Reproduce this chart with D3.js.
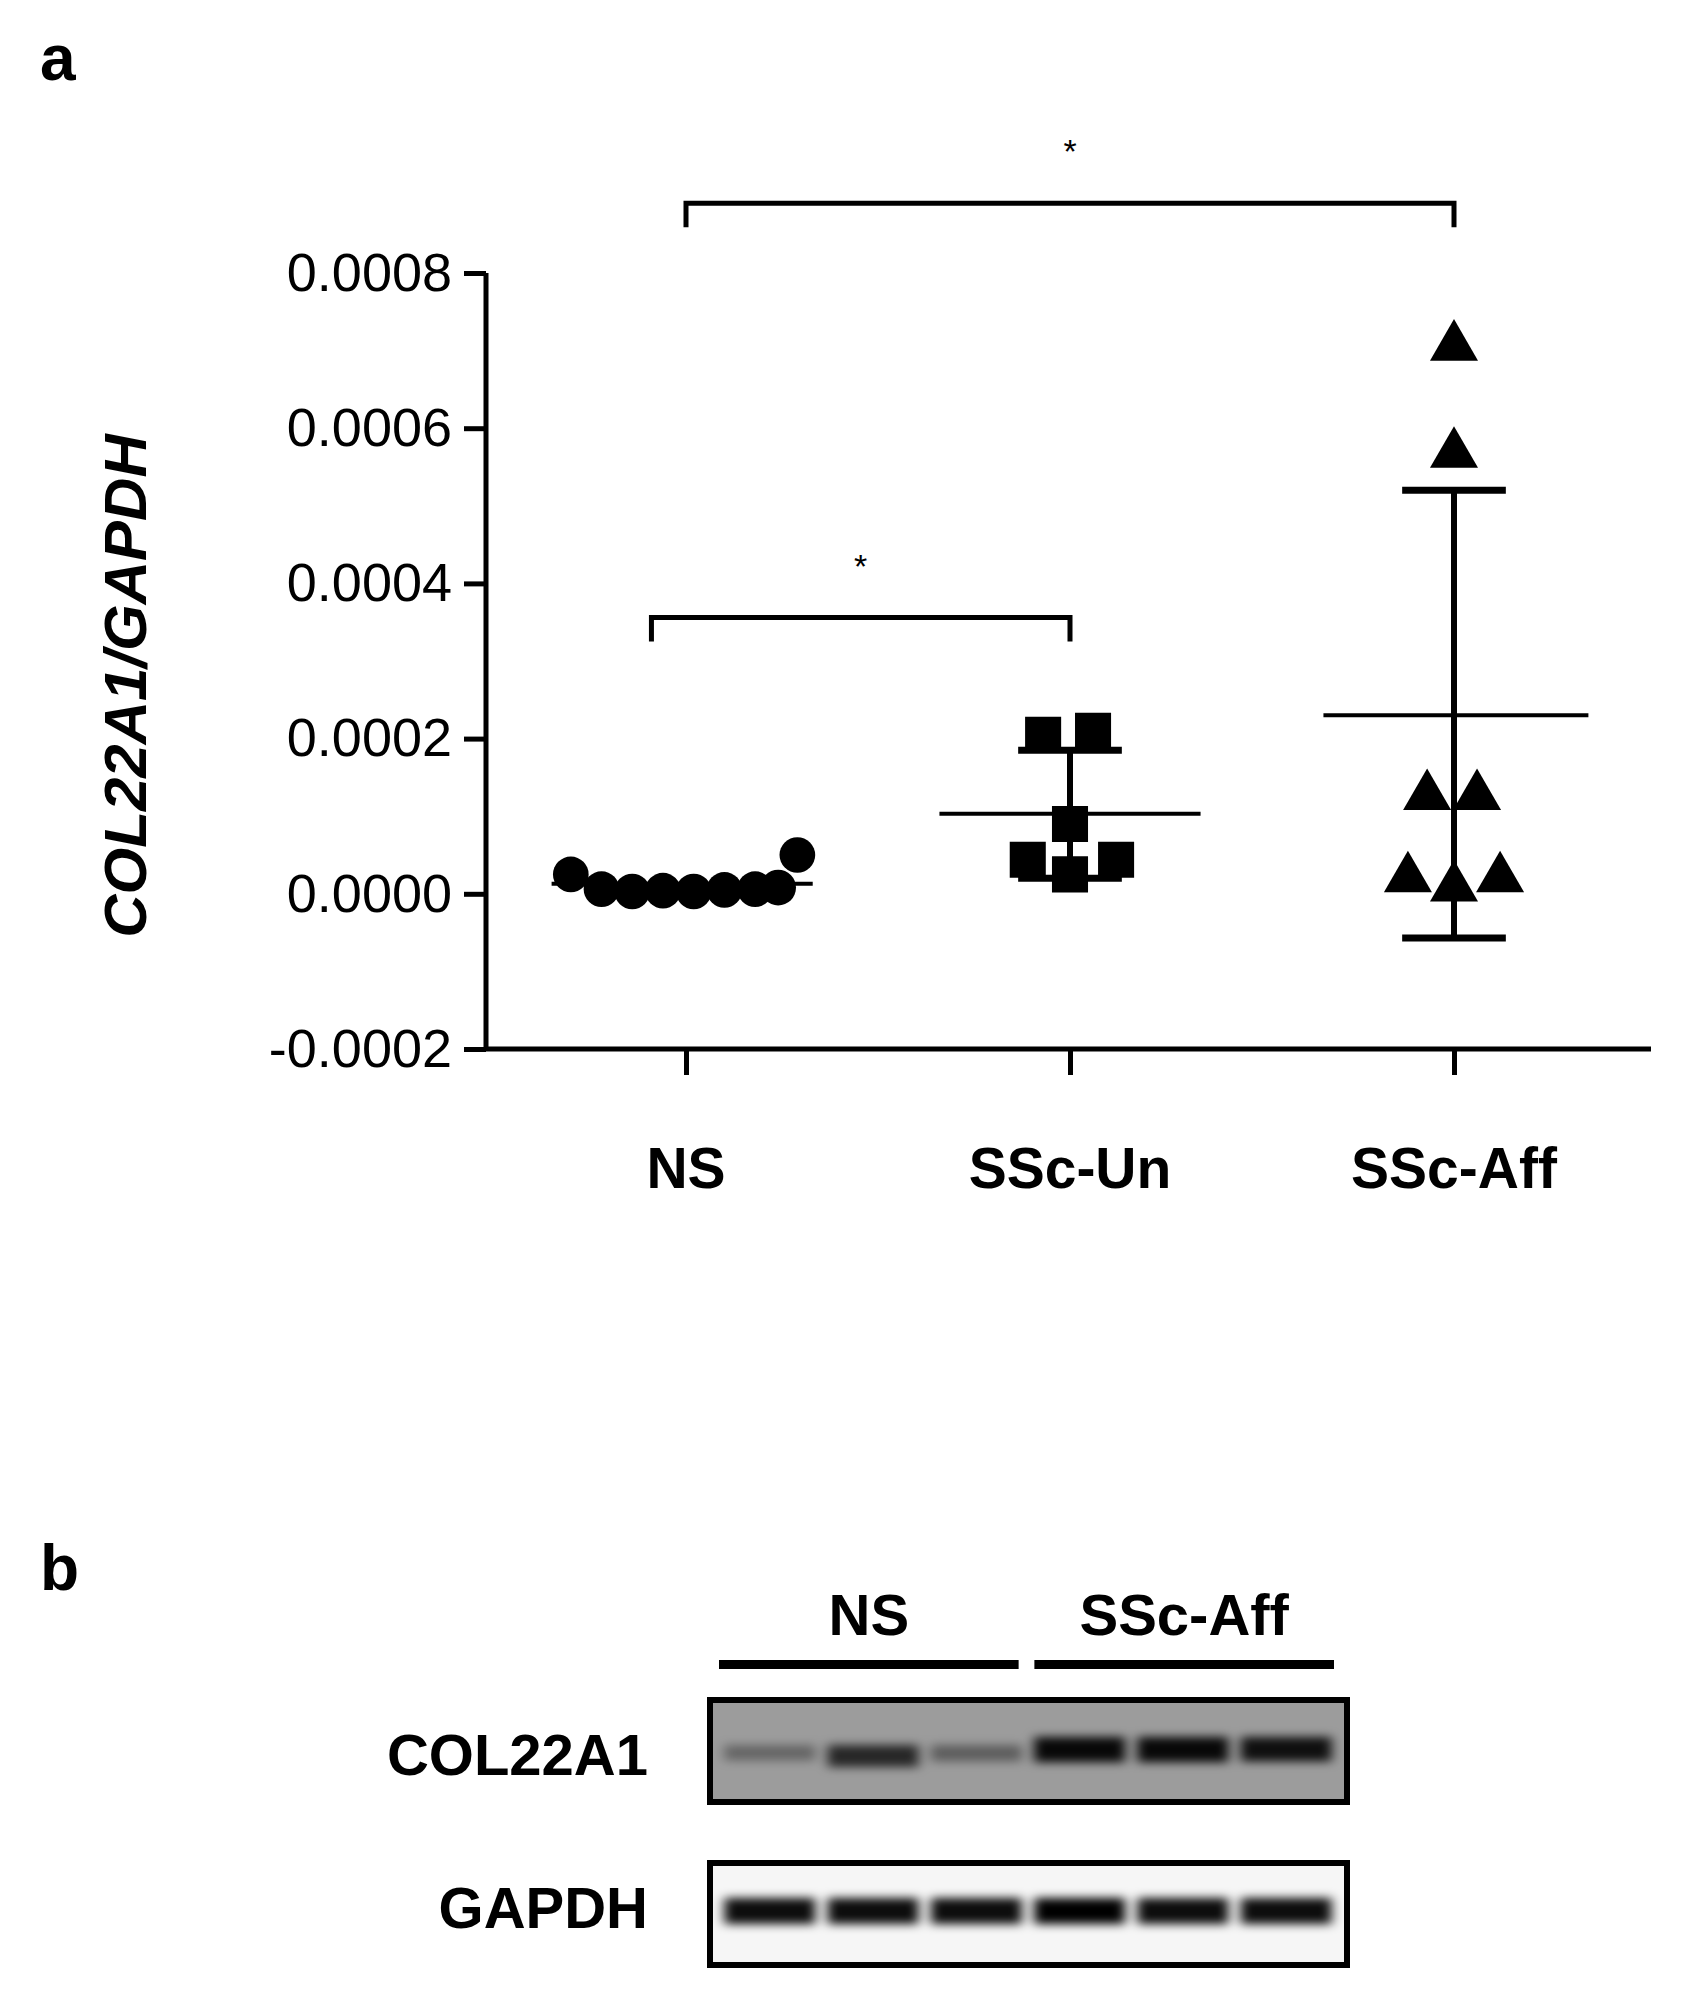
<!DOCTYPE html>
<html><head><meta charset="utf-8">
<script src="https://cdn.jsdelivr.net/npm/d3@7"></script>
<style>body{margin:0;background:#fff}</style></head>
<body><svg id="c" width="1689" height="1994"></svg>
<script>
const categories = ["NS","SSc-Un","SSc-Aff"];
const yTicks = [-0.0002,0,0.0002,0.0004,0.0006,0.0008];
const nsValues = [0.000025,0.000006,0.000003,0.000004,0.000003,0.000005,0.000006,0.000008,0.00005];
const nsJitter = [-0.30,-0.22,-0.14,-0.06,0.02,0.10,0.18,0.24,0.29];
const unValues = [0.000205,0.00021,0.00009,0.000044,0.000044,0.000025];
const unJitter = [-0.07,0.06,0,-0.11,0.12,0];
const affValues = [0.00071,0.000572,0.000131,0.000131,0.000025,0.000013,0.000025];
const affJitter = [0,0,-0.07,0.06,-0.12,0,0.12];
const means = [0.000013,0.000103,0.00023];
const sdLow = [null,0.00002,-0.000057];
const sdHigh = [null,0.000185,0.00052];
const sigBrackets = [{from:"NS",to:"SSc-Aff",y:0.00089,label:"*"},{from:"NS",to:"SSc-Un",y:0.000356,label:"*",fromOff:-0.09}];
const blotGroups = ["NS","SSc-Aff"];
const colIntensity = [0.35,0.75,0.4,0.95,0.95,0.9];
const gapdhIntensity = [0.95,0.95,0.95,1,0.95,0.95];

const svg = d3.select("#c");
const F = "Liberation Sans, Arial, sans-serif";
svg.append("text").attr("x",40).attr("y",80).attr("font-family",F).attr("font-weight","bold").attr("font-size",64).text("a");
svg.append("text").attr("x",40).attr("y",1590).attr("font-family",F).attr("font-weight","bold").attr("font-size",64).text("b");

const y = d3.scaleLinear().domain([-0.0002,0.0008]).range([1049,273]);
const x = d3.scalePoint().domain(categories).range([686,1454]);
const band = 384;
const g = svg.append("g");
const yAxis = g.append("g").attr("transform","translate(486,0)")
  .call(d3.axisLeft(y).tickValues(yTicks).tickSize(22).tickPadding(12));
const xAxis = g.append("g").attr("transform","translate(0,1049)")
  .call(d3.axisBottom(x).tickSize(26).tickFormat(""));
xAxis.select(".domain").attr("d","M486,0H1651");
yAxis.select(".domain").attr("d","M0,273V1049");
[yAxis,xAxis].forEach(a=>{a.selectAll("path,line").attr("stroke","#000").attr("stroke-width",5);});
yAxis.selectAll("text").attr("font-family",F).attr("font-size",54).attr("fill","#000").text(d=>(d<0?"-":"")+Math.abs(d).toFixed(4));
g.append("g").selectAll("text").data(categories).join("text")
  .attr("x",d=>x(d)).attr("y",1188).attr("text-anchor","middle").attr("font-family",F).attr("font-weight","bold").attr("font-size",57).text(d=>d);
g.append("text").attr("transform","translate(146,686) rotate(-90)").attr("text-anchor","middle")
  .attr("font-family",F).attr("font-weight","bold").attr("font-style","italic").attr("font-size",60).text("COL22A1/GAPDH");

categories.forEach((c,i)=>{
  const cx=x(c);
  const l = i==0?0.35:0.34, r = i==0?0.33:(i==2?0.35:0.34);
  g.append("line").attr("x1",cx-l*band).attr("x2",cx+r*band).attr("y1",y(means[i])).attr("y2",y(means[i])).attr("stroke","#000").attr("stroke-width",4);
  if(sdHigh[i]!==null){
    g.append("line").attr("x1",cx).attr("x2",cx).attr("y1",y(sdLow[i])).attr("y2",y(sdHigh[i])).attr("stroke","#000").attr("stroke-width",6);
    [sdLow[i],sdHigh[i]].forEach(v=>g.append("line").attr("x1",cx-0.135*band).attr("x2",cx+0.135*band).attr("y1",y(v)).attr("y2",y(v)).attr("stroke","#000").attr("stroke-width",7));
  }
});
const pts = [[nsValues,nsJitter,d3.symbolCircle],[unValues,unJitter,d3.symbolSquare],[affValues,affJitter,d3.symbolTriangle]];
pts.forEach(([vals,jit,sym],i)=>{
  const size = i==0?1000:(i==1?1300:1000);
  g.append("g").selectAll("path").data(vals).join("path")
    .attr("d",d3.symbol().type(sym).size(size))
    .attr("transform",(v,k)=>`translate(${x(categories[i])+jit[k]*band},${y(v)+(i==2?4:0)})`).attr("fill","#000");
});
sigBrackets.forEach(b=>{
  const x1=x(b.from)+(b.fromOff||0)*band, x2=x(b.to), yy=y(b.y);
  g.append("path").attr("d",`M${x1},${yy+24}V${yy}H${x2}V${yy+24}`).attr("fill","none").attr("stroke","#000").attr("stroke-width",5);
  g.append("text").attr("x",(x1+x2)/2).attr("y",yy-40).attr("text-anchor","middle").attr("font-family",F).attr("font-size",34).text(b.label);
});

const defs = svg.append("defs");
defs.append("filter").attr("id","bl").attr("x","-50%").attr("y","-100%").attr("width","200%").attr("height","300%")
  .append("feGaussianBlur").attr("stdDeviation","6 5");
const gx = d3.scaleBand().domain(blotGroups).range([719,1334]).paddingInner(0.05);
blotGroups.forEach(gr=>{
  svg.append("rect").attr("x",gx(gr)).attr("y",1660).attr("width",gx.bandwidth()).attr("height",9).attr("fill","#000");
  svg.append("text").attr("x",gx(gr)+gx.bandwidth()/2).attr("y",1635).attr("text-anchor","middle").attr("font-family",F).attr("font-weight","bold").attr("font-size",58).text(gr);
});
const lane = d3.scaleBand().domain(d3.range(6)).range([712,1344]).padding(0.12);
function blot(y0,h,bg,bandY,inten,label){
  svg.append("rect").attr("x",710).attr("y",y0).attr("width",637).attr("height",h).attr("fill",bg);
  svg.append("g").attr("filter","url(#bl)").selectAll("rect").data(inten).join("rect")
    .attr("x",(d,i)=>lane(i)).attr("y",(d,i)=>bandY+(inten===colIntensity&&i>2?-8:0)).attr("width",lane.bandwidth()).attr("height",(d)=>inten===colIntensity?10+16*d:26)
    .attr("fill",d=>`rgba(0,0,0,${d})`);
  svg.append("rect").attr("x",710).attr("y",y0).attr("width",637).attr("height",h).attr("fill","none").attr("stroke","#000").attr("stroke-width",6);
  svg.append("text").attr("x",648).attr("y",bandY+30).attr("text-anchor","end").attr("font-family",F).attr("font-weight","bold").attr("font-size",58).text(label);
}
blot(1700,102,"#9c9c9c",1745,colIntensity,"COL22A1");
blot(1863,102,"#f6f6f6",1898,gapdhIntensity,"GAPDH");
</script></body></html>
